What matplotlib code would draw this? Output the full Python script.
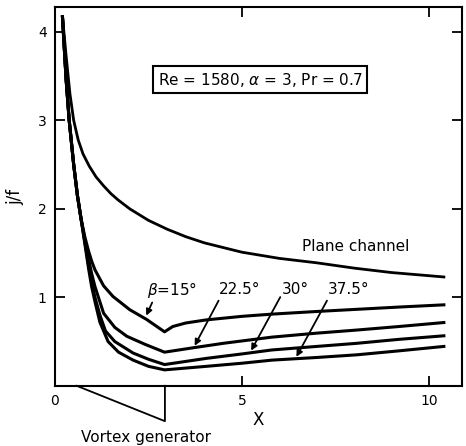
import numpy as np
import matplotlib
matplotlib.use('Agg')
import matplotlib.pyplot as plt

# plane channel
plane_x = [0.2, 0.3, 0.4, 0.5, 0.62, 0.75, 0.92, 1.1, 1.3, 1.5, 1.69, 2.0, 2.5, 3.0, 3.5, 4.0, 5.0, 6.0, 7.0, 8.0, 9.0, 10.4]
plane_y = [4.17, 3.72, 3.3, 3.0, 2.78, 2.62, 2.48, 2.36, 2.26, 2.17, 2.10, 2.0, 1.87, 1.77, 1.685, 1.615, 1.51, 1.44, 1.39, 1.33, 1.28, 1.23]

# vortex generator curves (beta = 15, 22.5, 30, 37.5 deg)
vg15_x = [0.2, 0.3, 0.38, 0.5, 0.6, 0.7, 0.8, 0.9, 0.98, 1.07, 1.3, 1.55, 2.0, 2.45, 2.93, 3.15, 3.5, 4.05, 5.0, 5.8, 7.0, 8.1, 9.2, 10.4]
vg15_y = [4.17, 3.45, 3.0, 2.5, 2.15, 1.88, 1.68, 1.52, 1.41, 1.31, 1.13, 1.01, 0.86, 0.75, 0.61, 0.67, 0.71, 0.745, 0.785, 0.81, 0.84, 0.865, 0.89, 0.915]

vg22_x = [0.2, 0.3, 0.38, 0.5, 0.6, 0.7, 0.8, 0.9, 0.98, 1.07, 1.3, 1.6, 1.92, 2.4, 2.93, 3.7, 4.5, 5.8, 7.0, 8.07, 9.2, 10.4]
vg22_y = [4.17, 3.45, 3.0, 2.5, 2.15, 1.88, 1.65, 1.43, 1.27, 1.12, 0.82, 0.66, 0.56, 0.47, 0.38, 0.43, 0.48, 0.55, 0.595, 0.63, 0.67, 0.715]

vg30_x = [0.2, 0.3, 0.38, 0.5, 0.6, 0.7, 0.8, 0.9, 0.98, 1.07, 1.2, 1.35, 1.6, 2.09, 2.5, 2.93, 4.05, 5.0, 5.8, 7.0, 8.07, 9.2, 10.4]
vg30_y = [4.17, 3.45, 3.0, 2.5, 2.15, 1.88, 1.62, 1.36, 1.17, 1.0, 0.8, 0.62, 0.5, 0.37, 0.3, 0.24, 0.31, 0.36, 0.405, 0.445, 0.48, 0.525, 0.565]

vg37_x = [0.2, 0.3, 0.38, 0.5, 0.6, 0.7, 0.8, 0.9, 0.98, 1.07, 1.2, 1.42, 1.7, 2.09, 2.5, 2.93, 4.05, 5.0, 5.8, 7.0, 8.07, 9.2, 10.4]
vg37_y = [4.17, 3.45, 3.0, 2.5, 2.15, 1.88, 1.6, 1.32, 1.12, 0.95, 0.72, 0.5, 0.38, 0.29, 0.22, 0.18, 0.22, 0.255, 0.29, 0.32, 0.35, 0.395, 0.445]

beta_labels = ['$\\beta$=15°', '22.5°', '30°', '37.5°']
label_xy = [(3.14, 1.085), (4.95, 1.085), (6.44, 1.085), (7.86, 1.085)]
arrow_from = [(2.63, 0.97), (4.41, 0.99), (6.06, 1.03), (7.31, 0.99)]
arrow_to = [(2.41, 0.765), (3.70, 0.425), (5.21, 0.37), (6.42, 0.30)]

# vortex generator sketch under the axis
vg_shape_x = [0.58, 2.94, 2.94]
vg_shape_y = [0.0, -0.40, 0.0]

fig = plt.figure(figsize=(4.66, 4.46), dpi=100)
ax = fig.add_axes([0.118, 0.135, 0.873, 0.849])

ax.plot(plane_x, plane_y, color='black', lw=2.0)
ax.plot(vg15_x, vg15_y, color='black', lw=2.2)
ax.plot(vg22_x, vg22_y, color='black', lw=2.2)
ax.plot(vg30_x, vg30_y, color='black', lw=2.2)
ax.plot(vg37_x, vg37_y, color='black', lw=2.2)

for lab, xy in zip(beta_labels, label_xy):
    ax.text(xy[0], xy[1], lab, ha='center', va='center', fontsize=11)
for a, b in zip(arrow_from, arrow_to):
    ax.annotate('', xy=b, xytext=a,
                arrowprops=dict(arrowstyle='-|>', color='black', lw=1.3, mutation_scale=9))

ax.text(8.05, 1.57, 'Plane channel', ha='center', va='center', fontsize=11)
ax.text(5.48, 3.46, 'Re = 1580, $\\alpha$ = 3, Pr = 0.7', ha='center', va='center', fontsize=11,
        bbox=dict(boxstyle='square,pad=0.3', fc='white', ec='black', lw=1.5))

ax.plot(vg_shape_x, vg_shape_y, color='black', lw=1.3, clip_on=False)
ax.text(2.43, -0.58, 'Vortex generator', ha='center', va='center', fontsize=11)

ax.set_xlim(0, 10.88)
ax.set_ylim(0, 4.28)
ax.set_xticks([0, 5, 10])
ax.set_yticks([1, 2, 3, 4])
ax.tick_params(direction='in', length=7, width=1.3, top=True, right=True, labelsize=10, pad=6)
for s in ax.spines.values():
    s.set_linewidth(1.5)

ax.set_xlabel('X', fontsize=12, labelpad=2)
ax.set_ylabel('j/f', fontsize=12, labelpad=10)

fig.savefig('out.png', dpi=100)
